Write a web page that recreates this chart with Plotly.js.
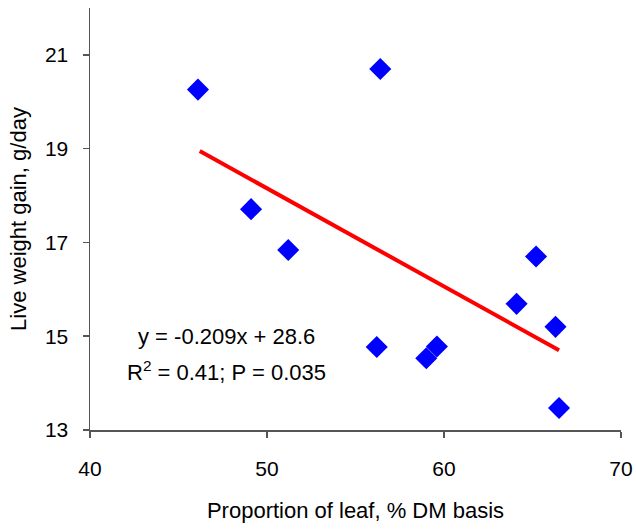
<!DOCTYPE html>
<html>
<head>
<meta charset="utf-8">
<script src="https://cdn.plot.ly/plotly-3.0.1.min.js"></script>
<style>html,body{margin:0;padding:0;background:#fff;}#chart{width:636px;height:531px;}</style>
</head>
<body>
<div id="chart"></div>
<script>
// Observed points (proportion of leaf %, live weight gain g/day)
const leafPct = [46.1, 56.4, 49.1, 51.2, 56.2, 59.0, 59.6, 64.1, 65.2, 66.3, 66.5];
const lwGain  = [20.26, 20.70, 17.71, 16.84, 14.77, 14.53, 14.78, 15.69, 16.70, 15.20, 13.47];
// Fitted trend line endpoints
const trendX = [46.2, 66.5];
const trendY = [18.95, 14.70];
const xTicks = [40, 50, 60, 70];
const yTicks = [13, 15, 17, 19, 21];
const eqLine1 = "y = -0.209x + 28.6";
const eqLine2 = "R<sup>2</sup> = 0.41; P = 0.035";

const font = "Liberation Sans, Arial, sans-serif";
const traces = [
  {x: trendX, y: trendY, mode: "lines", type: "scatter",
   line: {color: "#ff0000", width: 4}, hoverinfo: "skip"},
  {x: leafPct, y: lwGain, mode: "markers", type: "scatter",
   marker: {symbol: "diamond", size: 17, color: "#0000ff", line: {width: 0}}}
];
const layout = {
  width: 636, height: 531,
  margin: {l: 90, r: 15, t: 8, b: 101},
  paper_bgcolor: "#fff", plot_bgcolor: "#fff",
  showlegend: false,
  font: {family: font, size: 20, color: "#000"},
  xaxis: {
    range: [40, 70], tickvals: xTicks, ticktext: xTicks.map(String),
    showgrid: false, zeroline: false, showline: true, linecolor: "#555", linewidth: 1.5,
    ticks: "outside", ticklen: 6, tickcolor: "#555", tickwidth: 1.5,
    ticklabelstandoff: 13,
    tickfont: {family: font, size: 21},
    title: {text: "Proportion of leaf, % DM basis", font: {family: font, size: 22}, standoff: 24}
  },
  yaxis: {
    range: [13, 22], tickvals: yTicks, ticktext: yTicks.map(String),
    showgrid: false, zeroline: false, showline: true, linecolor: "#555", linewidth: 1.5,
    ticks: "outside", ticklen: 6, tickcolor: "#555", tickwidth: 1.5,
    ticklabelstandoff: 10,
    tickfont: {family: font, size: 21},
    title: {text: "Live weight gain, g/day", font: {family: font, size: 22}, standoff: 12}
  },
  annotations: [
    {x: 47.7, y: 15.0, xref: "x", yref: "y", text: eqLine1, showarrow: false,
     font: {family: font, size: 22}},
    {x: 47.7, y: 14.25, xref: "x", yref: "y", text: eqLine2, showarrow: false,
     font: {family: font, size: 22}}
  ]
};
Plotly.newPlot("chart", traces, layout, {displayModeBar: false, staticPlot: true});
</script>
</body>
</html>
